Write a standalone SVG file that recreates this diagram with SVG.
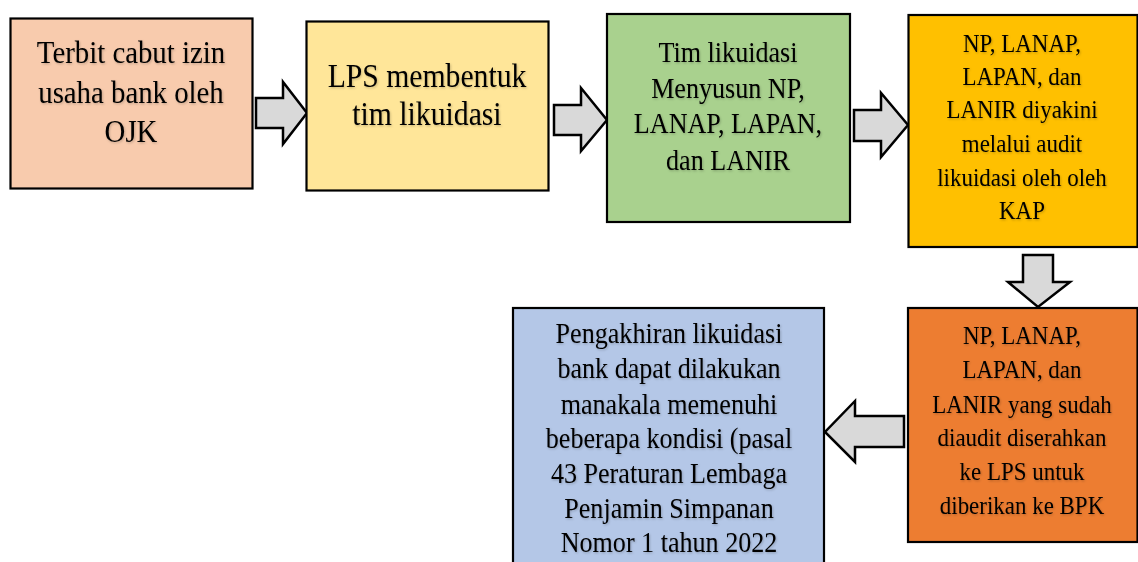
<svg xmlns="http://www.w3.org/2000/svg" width="1138" height="562" viewBox="0 0 1138 562">
<defs>
<filter id="sh" x="-5%" y="-5%" width="110%" height="120%">
<feDropShadow dx="1" dy="1.2" stdDeviation="1" flood-color="#000" flood-opacity="0.22"/>
</filter>
</defs>
<style>
.box{stroke:#000;stroke-width:2.2}
.arr{fill:#D9D9D9;stroke:#000;stroke-width:2.5;stroke-linejoin:miter}
text{font-family:"Liberation Serif","Times New Roman",serif;fill:#000;text-anchor:middle;filter:url(#sh)}
</style>
<rect width="1138" height="562" fill="#fff"/>
<g id="connectors">
<polygon class="arr" points="256,98 283,98 283,82 307,113 283,144 283,128 256,128"/>
<polygon class="arr" points="554,105 581,105 581,88 607,120 581,151 581,135 554,135"/>
<polygon class="arr" points="854,110 881,110 881,93 908,125 881,157 881,141 854,141"/>
<polygon class="arr" points="1023,255 1053,255 1053,282 1070,282 1038,307 1008,282 1023,282"/>
<polygon class="arr" points="904,416 855,416 855,401 825,432 855,462 855,447 904,447"/>
</g>
<g id="n1">
<rect class="box" x="10.5" y="18.5" width="242" height="170" fill="#F8CBAD"/>
<text font-size="32" transform="matrix(0.9 0 0 1 13.1 0)"><tspan x="131" y="63">Terbit cabut izin</tspan><tspan x="131" y="103">usaha bank oleh</tspan><tspan x="131" y="142">OJK</tspan></text>
</g>
<g id="n2">
<rect class="box" x="306.5" y="21.5" width="242" height="169" fill="#FFE699"/>
<text font-size="33" transform="matrix(0.9 0 0 1 42.7 0)"><tspan x="427" y="87">LPS membentuk</tspan><tspan x="427" y="125">tim likuidasi</tspan></text>
</g>
<g id="n3">
<rect class="box" x="607" y="14" width="243" height="208" fill="#A9D18E"/>
<text font-size="29" transform="matrix(0.9 0 0 1 72.8 0)"><tspan x="728" y="62">Tim likuidasi</tspan><tspan x="728" y="98">Menyusun NP,</tspan><tspan x="728" y="133">LANAP, LAPAN,</tspan><tspan x="728" y="170">dan LANIR</tspan></text>
</g>
<g id="n4">
<rect class="box" x="908.5" y="15" width="229" height="232" fill="#FFC000"/>
<text font-size="25.5" transform="matrix(0.9 0 0 1 102.2 0)"><tspan x="1022" y="52">NP, LANAP,</tspan><tspan x="1022" y="85">LAPAN, dan</tspan><tspan x="1022" y="118">LANIR diyakini</tspan><tspan x="1022" y="152">melalui audit</tspan><tspan x="1022" y="186">likuidasi oleh oleh</tspan><tspan x="1022" y="219">KAP</tspan></text>
</g>
<g id="n5">
<rect class="box" x="908" y="308" width="229.5" height="234" fill="#ED7D31"/>
<text font-size="25.5" transform="matrix(0.9 0 0 1 102.2 0)"><tspan x="1022" y="344">NP, LANAP,</tspan><tspan x="1022" y="378">LAPAN, dan</tspan><tspan x="1022" y="413">LANIR yang sudah</tspan><tspan x="1022" y="446">diaudit diserahkan</tspan><tspan x="1022" y="480">ke LPS untuk</tspan><tspan x="1022" y="514">diberikan ke BPK</tspan></text>
</g>
<g id="n6">
<rect class="box" x="513" y="308" width="311" height="270" fill="#B4C7E7"/>
<text font-size="29" transform="matrix(0.9 0 0 1 66.9 0)"><tspan x="669" y="343">Pengakhiran likuidasi</tspan><tspan x="669" y="378">bank dapat dilakukan</tspan><tspan x="669" y="414">manakala memenuhi</tspan><tspan x="669" y="448">beberapa kondisi (pasal</tspan><tspan x="669" y="483">43 Peraturan Lembaga</tspan><tspan x="669" y="518">Penjamin Simpanan</tspan><tspan x="669" y="552">Nomor 1 tahun 2022</tspan></text>
</g>
</svg>
